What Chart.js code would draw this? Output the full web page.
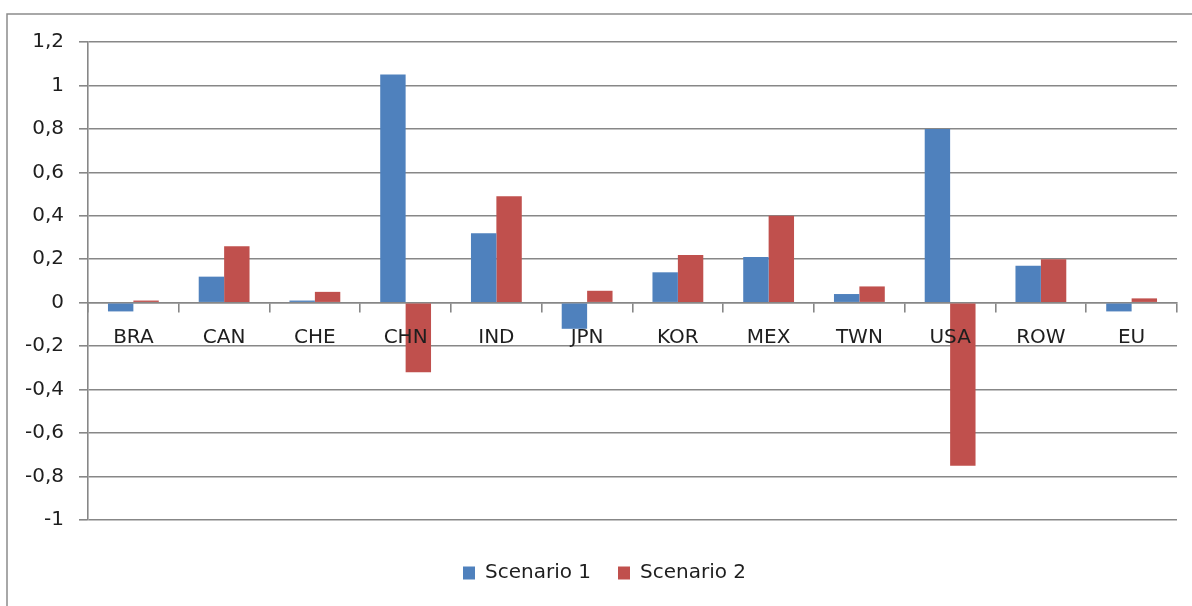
<!DOCTYPE html>
<html>
<head>
<meta charset="utf-8">
<script src="https://cdn.jsdelivr.net/npm/chart.js@4.4.1/dist/chart.umd.min.js"></script>
<style>
  html, body { margin: 0; padding: 0; background: #ffffff; }
  #wrap { width: 1192px; height: 606px; }
</style>
</head>
<body>
<div id="wrap"><canvas id="c" width="1192" height="606"></canvas></div>
<script>
const categories = ['BRA', 'CAN', 'CHE', 'CHN', 'IND', 'JPN', 'KOR', 'MEX', 'TWN', 'USA', 'ROW', 'EU'];
const scenario1 = [-0.04, 0.12, 0.01, 1.05, 0.32, -0.12, 0.14, 0.21, 0.04, 0.80, 0.17, -0.04];
const scenario2 = [0.01, 0.26, 0.05, -0.32, 0.49, 0.055, 0.22, 0.40, 0.075, -0.75, 0.20, 0.02];
const yTicks = [-1, -0.8, -0.6, -0.4, -0.2, 0, 0.2, 0.4, 0.6, 0.8, 1, 1.2];
const seriesNames = ['Scenario 1', 'Scenario 2'];

const FONT = 'DejaVu Sans';
const TEXT = '#1e1e1e';
const GRID = '#878787';

const frame = {
  id: 'frame',
  afterDraw(chart) {
    const ctx = chart.ctx;
    ctx.save();
    ctx.strokeStyle = '#8c8c8c';
    ctx.lineWidth = 1.5;
    ctx.beginPath();
    ctx.moveTo(7, 606);
    ctx.lineTo(7, 14);
    ctx.lineTo(1192, 14);
    ctx.stroke();
    ctx.restore();
  }
};

const legendPlace = {
  id: 'legendPlace',
  afterLayout(chart) {
    const lg = chart.legend;
    if (!lg || !lg.lineWidths) return;
    const pad = lg.options.labels.padding;
    const lw = lg.lineWidths[0];
    const startX = 463;
    const h = lg.height;
    lg.left = 0;
    lg.right = 2 * startX - pad + lw;
    lg.top = 536;
    lg.bottom = lg.top + h;
  }
};

new Chart(document.getElementById('c'), {
  type: 'bar',
  data: {
    labels: categories,
    datasets: [
      { label: seriesNames[0], data: scenario1, backgroundColor: '#4F81BD', borderWidth: 0 },
      { label: seriesNames[1], data: scenario2, backgroundColor: '#C0504D', borderWidth: 0 }
    ]
  },
  options: {
    responsive: false,
    animation: false,
    devicePixelRatio: 1,
    layout: { padding: { top: 42, right: 15, bottom: 29, left: 0 } },
    datasets: { bar: { categoryPercentage: 0.56, barPercentage: 1.0 } },
    plugins: {
      tooltip: { enabled: false },
      legend: {
        position: 'bottom',
        labels: {
          font: { family: FONT, size: 20 },
          color: TEXT,
          boxWidth: 12,
          boxHeight: 13,
          padding: 27
        }
      }
    },
    scales: {
      y: {
        min: -1,
        max: 1.2,
        afterFit(scale) { scale.width = 88; },
        afterBuildTicks(scale) { scale.ticks = yTicks.map(v => ({ value: v })); },
        ticks: {
          font: { family: FONT, size: 20 },
          color: TEXT,
          padding: 15,
          callback: (v) => String(Math.round(v * 10) / 10).replace('.', ',')
        },
        grid: { color: GRID, lineWidth: 1.6, tickLength: 9, drawTicks: true },
        border: { display: true, color: GRID, width: 1.6 }
      },
      x: {
        position: { y: 0 },
        afterFit(scale) { scale.height = 1; },
        ticks: {
          z: 1,
          font: { family: FONT, size: 20 },
          color: TEXT,
          padding: 14,
          maxRotation: 0,
          autoSkip: false
        },
        grid: { offset: true, drawOnChartArea: false, drawTicks: true, tickLength: 9, color: GRID, lineWidth: 1.6 },
        border: { display: true, color: GRID, width: 1.6 }
      }
    }
  },
  plugins: [frame, legendPlace]
});
</script>
</body>
</html>
